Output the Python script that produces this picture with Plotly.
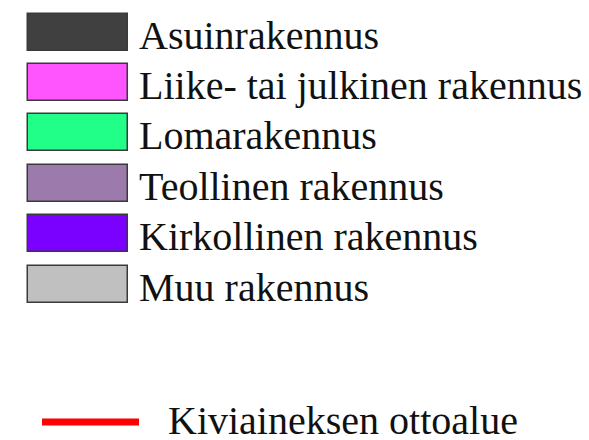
import plotly.graph_objects as go

labels = ["Asuinrakennus", "Liike- tai julkinen rakennus", "Lomarakennus",
          "Teollinen rakennus", "Kirkollinen rakennus", "Muu rakennus"]
fill_colors = ["#404040", "#FF55FF", "#22FF88", "#9C7BAC", "#7A00FF", "#C0C0C0"]
line_label = "Kiviaineksen ottoalue"
line_color = "#FF0000"

# layout helpers (pixel-like data units, page body has an 8px margin)
off = 8
pitch = 50.4
first_center = 32
row_y = [first_center + i * pitch for i in range(len(labels))]
line_y = 422

fig = go.Figure()
fig.add_trace(go.Bar(
    orientation="h", y=row_y, x=[100] * len(labels), base=28, width=37,
    marker=dict(color=fill_colors, line=dict(color="#3a3a3a", width=1.5)),
    showlegend=False, hoverinfo="skip"))
fig.add_trace(go.Scatter(
    x=[42, 139], y=[line_y, line_y], mode="lines",
    line=dict(color=line_color, width=7), showlegend=False, hoverinfo="skip"))

font = dict(family="Liberation Serif", size=40, color="#111111")
for lab, y in zip(labels, row_y):
    fig.add_annotation(x=137, y=y + 3, text=lab, showarrow=False,
                       xanchor="left", yanchor="middle", font=font)
fig.add_annotation(x=166, y=line_y - 2, text=line_label, showarrow=False,
                   xanchor="left", yanchor="middle", font=font)

fig.update_layout(
    width=589, height=440, margin=dict(l=0, r=0, t=0, b=0),
    paper_bgcolor="white", plot_bgcolor="white",
    xaxis=dict(range=[off, 589 + off], visible=False, fixedrange=True),
    yaxis=dict(range=[440 + off, off], visible=False, fixedrange=True),
    bargap=0,
)
fig.write_html("out.html")
